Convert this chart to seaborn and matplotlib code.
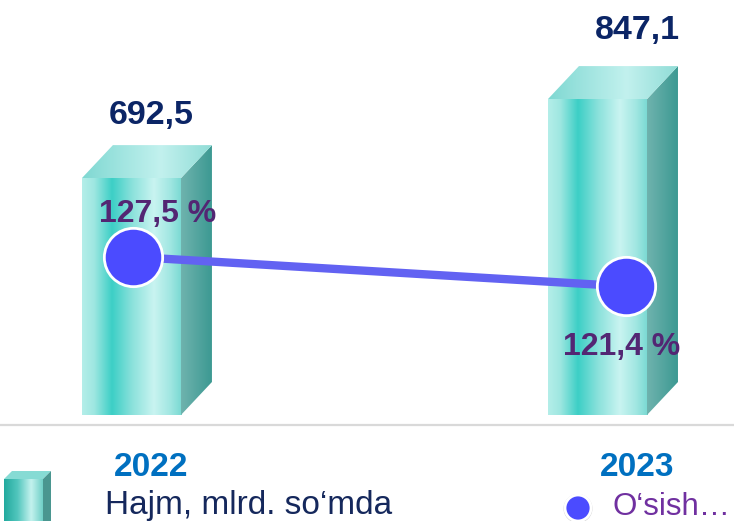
import numpy as np
import pandas as pd
import matplotlib
matplotlib.use('Agg')
import matplotlib.pyplot as plt
import seaborn as sns
from matplotlib.patches import Polygon, Circle
from matplotlib.colors import LinearSegmentedColormap

# ---------------- data ----------------
years = ['2022', '2023']
volume = [692.5, 847.1]
growth = [127.5, 121.4]
volume_labels = ['692,5', '847,1']
growth_labels = ['127,5 %', '121,4 %']
legend_labels = ['Hajm, mlrd. so\u2018mda', 'O\u2018sish\u2026']

# ---------------- style ----------------
sns.set_theme(style='white')
plt.rcParams['font.family'] = ['Liberation Sans', 'DejaVu Sans']

W, H, DPI = 734, 521, 100
fig = plt.figure(figsize=(W / DPI, H / DPI), dpi=DPI)


def px_axes(left, top, right, bottom):
    return fig.add_axes([left / W, 1 - bottom / H, (right - left) / W, (bottom - top) / H])


df = pd.DataFrame({'year': years, 'volume': volume, 'growth': growth})

# ---------------- bars ----------------
ax = px_axes(0, 0, W, 415)
sns.barplot(data=df, x='year', y='volume', ax=ax, width=0.2125,
            color='#5fd6cf', saturation=1, edgecolor='none', zorder=2)
ax.set_xlim(-0.282, 1.293)
ax.set_ylim(229, 1041)
ax.set_xlabel('')
ax.set_ylabel('')
ax.set_yticks([])
ax.set_xticks([])
for s in ['left', 'top', 'right']:
    ax.spines[s].set_visible(False)
ax.spines['bottom'].set_position(('outward', 7))
ax.spines['bottom'].set_color('#d9d9d9')
ax.spines['bottom'].set_linewidth(1.6)
ax.patch.set_alpha(0)

front_cmap = LinearSegmentedColormap.from_list('front', [
    (0.0, '#b4eee9'), (0.12, '#9fe7e1'), (0.3, '#3ccfc6'), (0.5, '#8ae1db'),
    (0.72, '#c9f4f1'), (0.88, '#a2e7e2'), (1.0, '#78d9d2')])
side_cmap = LinearSegmentedColormap.from_list('side', ['#6fb3ae', '#3c9992'])
top_cmap = LinearSegmentedColormap.from_list('top', [
    (0.0, '#7fd8d2'), (0.6, '#c2f1ee'), (1.0, '#8fdcd6')])
grad = np.linspace(0, 1, 256)[np.newaxis, :]

DX, DY = 31, 33  # depth in pixels
inv = ax.transData.inverted()


def shift(xd, yd):
    d = ax.transData.transform((xd, yd))
    return tuple(inv.transform((d[0] + DX, d[1] + DY)))


ybot = ax.get_ylim()[0]
bars = [p for p in ax.patches]
for p in bars:
    x0, w, top = p.get_x(), p.get_width(), p.get_height()
    ax.imshow(grad, cmap=front_cmap, extent=[x0, x0 + w, ybot, top],
              aspect='auto', zorder=2.1, interpolation='bicubic')
    side = [(x0 + w, ybot), (x0 + w, top), shift(x0 + w, top), shift(x0 + w, ybot)]
    topf = [(x0, top), (x0 + w, top), shift(x0 + w, top), shift(x0, top)]
    for verts, cmap in [(side, side_cmap), (topf, top_cmap)]:
        poly = Polygon(verts, closed=True, facecolor='none', edgecolor='none', zorder=2)
        ax.add_patch(poly)
        xs = [v[0] for v in verts]
        ys = [v[1] for v in verts]
        im = ax.imshow(grad, cmap=cmap, extent=[min(xs), max(xs), min(ys), max(ys)],
                       aspect='auto', zorder=2.1, interpolation='bicubic')
        im.set_clip_path(poly)

ax.set_xlim(-0.282, 1.293)
ax.set_ylim(229, 1041)

value_offsets = [(20, 63), (40, 69)]
for i, (v, lab) in enumerate(zip(volume, volume_labels)):
    ax.annotate(lab, xy=(i, v), xytext=value_offsets[i], textcoords='offset pixels',
                ha='center', va='center', fontsize=24.5, fontweight='bold',
                color='#0b2566', zorder=5)

year_offsets = [(20, -52), (40, -53)]
for i, lab in enumerate(years):
    ax.annotate(lab, xy=(i, 0), xycoords=('data', 'axes fraction'),
                xytext=year_offsets[i], textcoords='offset pixels',
                ha='center', va='center', fontsize=24, fontweight='bold',
                color='#0070c0', annotation_clip=False)

# ---------------- line ----------------
ax2 = px_axes(0, 0, W, 415)
sns.lineplot(data=df, x='year', y='growth', ax=ax2, color='#6262f2', linewidth=6,
             marker='o', markersize=42, markerfacecolor='#4b4bff',
             markeredgecolor='white', markeredgewidth=2, sort=False)
ax2.set_xlim(-0.2685, 1.2188)
ax2.set_ylim(94.8, 180.6)
ax2.axis('off')

growth_offsets = [(25, 43), (-4, -61)]
for i, (g, lab) in enumerate(zip(growth, growth_labels)):
    ax2.annotate(lab, xy=(i, g), xytext=growth_offsets[i], textcoords='offset pixels',
                 ha='center', va='center', fontsize=23, fontweight='bold',
                 color='#532673', zorder=6)

# ---------------- legend ----------------
lg = fig.add_axes([0, 0, 1, 1])
lg.set_xlim(0, W)
lg.set_ylim(H, 0)
lg.axis('off')
lg.patch.set_alpha(0)

icon_front = Polygon([(4, 479), (43, 479), (43, 530), (4, 530)], closed=True,
                     facecolor='none', edgecolor='none')
lg.add_patch(icon_front)
icon_cmap = LinearSegmentedColormap.from_list('icon', [
    (0.0, '#21a99e'), (0.35, '#52c6bd'), (0.7, '#c4f2ee'), (1.0, '#6fcfc7')])
im = lg.imshow(grad, cmap=icon_cmap, extent=[4, 43, 530, 479], aspect='auto',
               interpolation='bicubic')
im.set_clip_path(icon_front)
lg.add_patch(Polygon([(4, 479), (43, 479), (51, 471), (12, 471)], closed=True,
                     facecolor='#86dbd4', edgecolor='none'))
lg.add_patch(Polygon([(43, 479), (51, 471), (51, 530), (43, 530)], closed=True,
                     facecolor='#4a9690', edgecolor='none'))
lg.set_xlim(0, W)
lg.set_ylim(H, 0)

lg.text(105, 514, legend_labels[0], fontsize=24, color='#15285c', ha='left',
        va='baseline')
lg.add_patch(Circle((578, 508.5), 14.5, facecolor='#d0d0d0', edgecolor='none'))
lg.add_patch(Circle((578, 508), 13, facecolor='#4b4bff', edgecolor='white', linewidth=2))
lg.text(613, 515, legend_labels[1], fontsize=22.5, color='#7030a0', ha='left',
        va='baseline')

fig.savefig('out.png', dpi=DPI)
